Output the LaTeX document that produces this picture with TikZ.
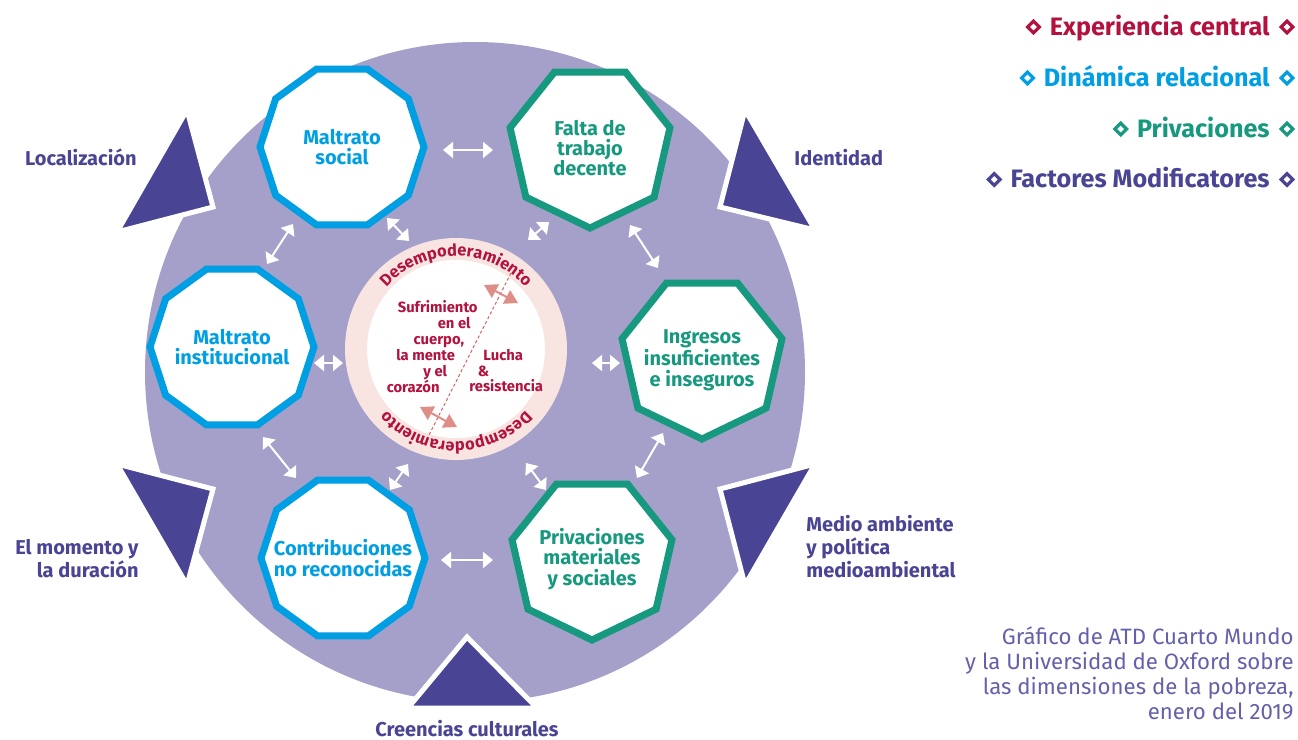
\documentclass[tikz,border=0pt]{standalone}
\usepackage{fontspec}
\setmainfont{Fira Sans}
\newfontfamily\lightf{Fira Sans}
\newcommand\semif{\rmfamily\bfseries}
\newcommand\medf{\rmfamily\bfseries}
\usetikzlibrary{arrows.meta,decorations.text,shapes.geometric,calc}
\definecolor{lav}{HTML}{A4A0CA}
\definecolor{dpur}{HTML}{4A4494}
\definecolor{crim}{HTML}{B3123E}
\definecolor{cblue}{HTML}{009EE2}
\definecolor{cgreen}{HTML}{17997F}
\definecolor{pinkring}{HTML}{F8E5E2}
\definecolor{salmon}{HTML}{DE8E86}
\definecolor{dashc}{HTML}{D9615E}
\definecolor{foot}{HTML}{6460AC}
\begin{document}
\begin{tikzpicture}[x=0.5pt,y=-0.5pt,
  tri/.style={fill=dpur,draw=white,line width=2.5pt,line join=miter},
  deca/.style={regular polygon,regular polygon sides=10,minimum size=82pt,inner sep=0pt,fill=white,line width=3.5pt,draw=cblue},
  hepta/.style={regular polygon,regular polygon sides=7,shape border rotate=180,minimum size=82pt,inner sep=0pt,fill=white,line width=3.5pt,draw=cgreen},
  otext/.style={align=center,inner sep=0pt,font=\semif\fontsize{10}{10.2}\selectfont},
  lab/.style={inner sep=0pt,text=dpur,font=\semif\fontsize{10}{11.5}\selectfont},
  ctext/.style={inner sep=0pt,text=crim,font=\medf\fontsize{7.4}{9}\selectfont},
  warrow/.style={{Triangle[length=5pt,width=8pt]}-{Triangle[length=5pt,width=8pt]},draw=white,line width=1pt},
  parrow/.style={{Triangle[length=6.5pt,width=7.5pt]}-{Triangle[length=6.5pt,width=7.5pt]},draw=salmon,line width=1pt},
  leg/.style={inner sep=0pt,font=\semif\fontsize{12.6}{14}\selectfont},
  legdia/.style={diamond,inner sep=0pt,minimum size=6.5pt,line width=1.6pt}
]
\useasboundingbox (0,0) rectangle (1298,740);
\fill[white] (0,0) rectangle (1298,740);
% big disk
\fill[lav] (475,372) circle[radius=330];
% triangles (modifying factors)
\path[tri] (187,110) -- (117,232) -- (213,207) -- cycle;
\path[tri] (745,110) -- (720,207) -- (815,230) -- cycle;
\path[tri] (117,464) -- (213,489) -- (187,585) -- cycle;
\path[tri] (815,464) -- (720,489) -- (745,585) -- cycle;
\path[tri] (467,637) -- (408,708) -- (537,708) -- cycle;
% central circle
\fill[pinkring] (456,349) circle[radius=111];
\fill[white] (456,349) circle[radius=89];
\coordinate (cc) at (456,349);
\path[decorate,decoration={text along path,text align=center,text color=crim,
  text={|\semif\fontsize{8.2}{9}\selectfont|Desempoderamiento}}]
  (cc) ++(180:93) arc[start angle=180,end angle=360,radius=93];
\path[decorate,decoration={text along path,text align=center,text color=crim,
  text={|\semif\fontsize{8.2}{9}\selectfont|Desempoderamiento}}]
  (cc) ++(0:93) arc[start angle=0,end angle=180,radius=93];
\coordinate (dA) at (511,273);
\coordinate (dB) at (428,437);
\draw[dashc,line width=0.5pt,dash pattern=on 1.5pt off 1.2pt] (dA) -- (dB);
\coordinate (p1a) at (484,285); \coordinate (p1b) at (518,303);
\coordinate (p2a) at (420,407); \coordinate (p2b) at (457,427);
\draw[parrow] (p1a) -- (p1b);
\draw[parrow] (p2a) -- (p2b);
\node[ctext,anchor=base east] (s1) at (478,312.5) {Sufrimiento};
\node[ctext,anchor=base east] (s2) at (471,328.5) {en el};
\node[ctext,anchor=base east] (s3) at (464.5,344) {cuerpo,};
\node[ctext,anchor=base east] (s4) at (455.5,360) {la mente};
\node[ctext,anchor=base east] (s5) at (447.5,376.5) {y el};
\node[ctext,anchor=base east] (s6) at (440,392) {corazón};
\node[ctext,anchor=base west] (r1) at (483,360) {Lucha};
\node[ctext,anchor=base west] (r2) at (477.5,376) {\&};
\node[ctext,anchor=base west] (r3) at (469,391.5) {resistencia};
% polygons
\node[deca] (ms) at (342,147) {};
\node[otext,text=cblue] (msT) at (ms.center) {Maltrato\\social};
\node[deca] (mi) at (232,347) {};
\node[otext,text=cblue] (miT) at (mi.center) {Maltrato\\institucional};
\node[deca] (cn) at (343,558) {};
\node[otext,text=cblue] (cnT) at (cn.center) {Contribuciones\\no reconocidas};
\node[hepta] (ft) at (590,146) {};
\node[otext,text=cgreen] (ftT) at ($(ft.center)+(0,2)$) {Falta de\\trabajo\\decente};
\node[hepta] (ii) at (702,357) {};
\node[otext,text=cgreen] (iiT) at ($(ii.center)+(0,3)$) {Ingresos\\insuficientes\\e inseguros};
\node[hepta] (pm) at (592,558) {};
\node[otext,text=cgreen] (pmT) at ($(pm.center)+(0,1)$) {Privaciones\\materiales\\y sociales};
% white double arrows
\coordinate (a1a) at (443,150); \coordinate (a1b) at (493,150);
\coordinate (a2a) at (293,224); \coordinate (a2b) at (267,264);
\coordinate (a3a) at (387,218); \coordinate (a3b) at (409,241);
\coordinate (a4a) at (549,222); \coordinate (a4b) at (528,240);
\coordinate (a5a) at (630,225); \coordinate (a5b) at (658,268);
\coordinate (a6a) at (314,363); \coordinate (a6b) at (343,363);
\coordinate (a7a) at (592,363); \coordinate (a7b) at (620,363);
\coordinate (a8a) at (263,437); \coordinate (a8b) at (296,478);
\coordinate (a9a) at (390,490); \coordinate (a9b) at (408,464);
\coordinate (a10a) at (441,560); \coordinate (a10b) at (493,560);
\coordinate (a11a) at (526,463); \coordinate (a11b) at (546,490);
\coordinate (a12a) at (637,478); \coordinate (a12b) at (663,433);
\foreach \i in {1,...,12}{\draw[warrow] (a\i a) -- (a\i b);}
% labels of modifying factors
\node[lab,anchor=base east] (lLoc) at (137,165) {Localización};
\node[lab,anchor=base west] (lId) at (794,165) {Identidad};
\node[lab,anchor=east,align=right] (lMom) at (139,559) {El momento y\\la duración};
\node[lab,anchor=west,align=left] (lMed) at (806,547) {Medio ambiente\\y política\\medioambiental};
\node[lab,anchor=base] (lCre) at (467,736) {Creencias culturales};
% legend
\node[leg,text=crim,anchor=base east] (g1) at (1270,35) {Experiencia central};
\node[leg,text=cblue,anchor=base east] (g2) at (1270,86) {Dinámica relacional};
\node[leg,text=cgreen,anchor=base east] (g3) at (1270,137) {Privaciones};
\node[leg,text=dpur,anchor=base east] (g4) at (1270,187.5) {Factores Modificatores};
\node[legdia,draw=crim] (g1l) at ($(g1.base west)+(-16,-8)$) {};
\node[legdia,draw=crim] (g1r) at ($(g1.base east)+(17,-8)$) {};
\node[legdia,draw=cblue] (g2l) at ($(g2.base west)+(-16,-8)$) {};
\node[legdia,draw=cblue] (g2r) at ($(g2.base east)+(17,-8)$) {};
\node[legdia,draw=cgreen] (g3l) at ($(g3.base west)+(-16,-8)$) {};
\node[legdia,draw=cgreen] (g3r) at ($(g3.base east)+(17,-8)$) {};
\node[legdia,draw=dpur] (g4l) at ($(g4.base west)+(-16,-8)$) {};
\node[legdia,draw=dpur] (g4r) at ($(g4.base east)+(17,-8)$) {};
% footnote
\node[anchor=east,align=right,inner sep=0pt,text=foot,font=\lightf\fontsize{11.1}{12.5}\selectfont] (foot) at (1294,673)
  {Gráfico de ATD Cuarto Mundo\\y la Universidad de Oxford sobre\\las dimensiones de la pobreza,\\enero del 2019};
\end{tikzpicture}
\end{document}
